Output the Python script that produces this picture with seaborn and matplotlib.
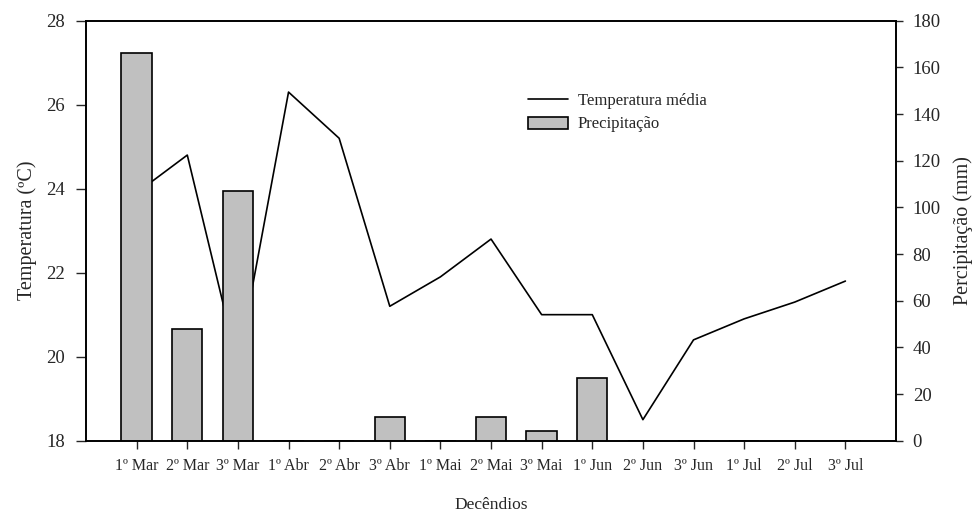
import numpy as np
import pandas as pd
import matplotlib
matplotlib.use("Agg")
import matplotlib.pyplot as plt
import seaborn as sns
from matplotlib.lines import Line2D
from matplotlib.patches import Patch

categories = ["1º Mar", "2º Mar", "3º Mar", "1º Abr", "2º Abr", "3º Abr", "1º Mai",
              "2º Mai", "3º Mai", "1º Jun", "2º Jun", "3º Jun", "1º Jul", "2º Jul", "3º Jul"]
temperatura = [23.9, 24.8, 19.8, 26.3, 25.2, 21.2, 21.9, 22.8, 21.0, 21.0, 18.5, 20.4, 20.9, 21.3, 21.8]
precipitacao = [166, 48, 107, 0, 0, 10, 0, 10, 4, 27, 0, 0, 0, 0, 0]
temp_ticks = [18, 20, 22, 24, 26, 28]
prec_ticks = [0, 20, 40, 60, 80, 100, 120, 140, 160, 180]

sns.set_style("ticks")
plt.rcParams["font.family"] = ["Liberation Serif", "DejaVu Serif"]

df = pd.DataFrame({"dec": categories, "temp": temperatura, "prec": precipitacao,
                   "pos": np.arange(len(categories))})

fig = plt.figure(figsize=(9.8, 5.13), dpi=100)
ax = fig.add_axes([0.0878, 0.141, 0.8265, 0.8187])
ax2 = ax.twinx()

sns.lineplot(data=df, x="pos", y="temp", sort=False, color="black", linewidth=1.2,
             ax=ax, legend=False)
sns.barplot(data=df, x="dec", y="prec", color="#c0c0c0", edgecolor="black",
            linewidth=1.2, width=0.6, saturation=1, ax=ax2)

ax.set_ylim(18, 28)
ax.set_yticks(temp_ticks)
ax2.set_ylim(0, 180)
ax2.set_yticks(prec_ticks)
ax2.set_xlim(-1.0, 15.0)
ax.set_xticks(df["pos"])
ax.set_xticklabels(categories)

for a in (ax, ax2):
    for s in a.spines.values():
        s.set_visible(True)
        s.set_linewidth(1.2)
        s.set_color("black")

ax.tick_params(axis="y", direction="out", length=7, width=1, pad=8, labelsize=13.5)
ax.tick_params(axis="x", direction="out", length=5.5, width=1, pad=7, labelsize=11.5)
ax2.tick_params(axis="y", direction="out", length=5, width=1, pad=7, labelsize=13.5)

ax.set_xlabel("Decêndios", fontsize=12.5, labelpad=16.5)
ax.set_ylabel("Temperatura (ºC)", fontsize=14.5, labelpad=7)
ax2.set_ylabel("Percipitação (mm)", fontsize=14.5, labelpad=9)
ax2.set_xlabel("")

handles = [Line2D([0], [0], color="black", linewidth=1.2),
           Patch(facecolor="#c0c0c0", edgecolor="black", linewidth=1.2)]
fig.legend(handles, ["Temperatura média", "Precipitação"], loc="upper left",
           bbox_to_anchor=(528 / 980, 1 - 93 / 513), frameon=False, fontsize=12,
           handlelength=2.4, handleheight=0.7, handletextpad=0.6, labelspacing=0.45,
           borderpad=0, borderaxespad=0)

fig.savefig("out.png", dpi=100)
